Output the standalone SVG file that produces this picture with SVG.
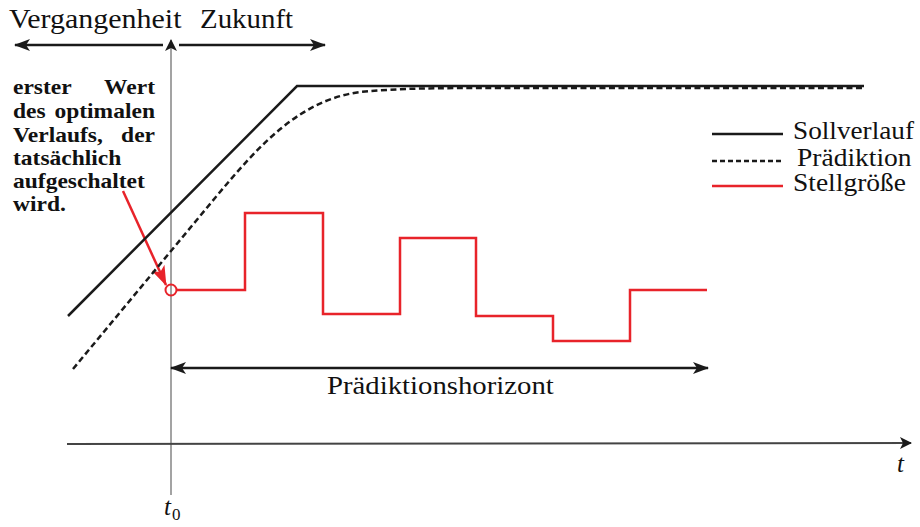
<svg xmlns="http://www.w3.org/2000/svg" width="920" height="527" viewBox="0 0 920 527">
<defs>
<style>
.t{font-family:"Liberation Serif","Times New Roman",serif;fill:#111}
.b{font-family:"Liberation Serif","Times New Roman",serif;font-weight:bold;fill:#111;font-size:21px}
.blk{stroke:#1a1a1a;stroke-width:2.5;fill:none}
.red{stroke:#e8232a;stroke-width:2.5;fill:none}
.ax{stroke:#666;stroke-width:1.2;fill:none}
</style>
<marker id="ah" viewBox="0 0 16 12" refX="15" refY="6" markerWidth="16" markerHeight="12" markerUnits="userSpaceOnUse" orient="auto-start-reverse">
<path d="M0,0 L16,6 L0,12 L4,6 Z" fill="#1a1a1a"/>
</marker>
<marker id="ahs" viewBox="0 0 12 12" refX="11" refY="6" markerWidth="12" markerHeight="12" markerUnits="userSpaceOnUse" orient="auto">
<path d="M0,0 L12,6 L0,12 L3,6 Z" fill="#1a1a1a"/>
</marker>
<marker id="ahr" viewBox="0 0 20 14" refX="19" refY="7" markerWidth="20" markerHeight="14" markerUnits="userSpaceOnUse" orient="auto">
<path d="M0,0 L20,7 L0,14 L5,7 Z" fill="#e8232a"/>
</marker>
</defs>
<g id="axes">
<line class="ax" x1="171" y1="495" x2="171" y2="40" marker-end="url(#ahs)"/>
<line x1="67" y1="444" x2="911" y2="443" stroke="#444" stroke-width="2" marker-end="url(#ahs)"/>
<text class="t" x="897" y="472" font-size="25" font-style="italic">t</text>
<text class="t" x="164" y="515" font-size="25" font-style="italic">t</text>
<text class="t" x="172" y="520" font-size="17">0</text>
</g>
<g id="time-labels">
<text class="t" font-size="27" transform="translate(9,28) scale(1.11,1)">Vergangenheit</text>
<text class="t" font-size="27" transform="translate(200,28) scale(1.07,1)">Zukunft</text>
</g>
<g id="connectors">
<line class="blk" x1="163" y1="45" x2="15" y2="45" marker-end="url(#ah)"/>
<line class="blk" x1="179" y1="45" x2="325" y2="45" marker-end="url(#ah)"/>
<line class="blk" x1="171" y1="368" x2="708" y2="368" marker-start="url(#ah)" marker-end="url(#ah)"/>
<line class="red" x1="123" y1="191" x2="166" y2="285" marker-end="url(#ahr)"/>
</g>
<g id="sollverlauf">
<path class="blk" d="M68,316 L297,86 L864,86"/>
</g>
<g id="praediktion">
<path class="blk" stroke-dasharray="6,3.5" d="M73,369 L215,198 C260,144 300,100 360,92 C400,88 440,88 500,88 L863,88"/>
</g>
<g id="stellgroesse">
<circle cx="171" cy="290" r="5.5" fill="none" stroke="#e8232a" stroke-width="2"/>
<path class="red" d="M176.5,290 L245,290 L245,213 L323,213 L323,314 L400,314 L400,238 L476,238 L476,316 L553,316 L553,341 L630,341 L630,290 L707,290"/>
</g>
<g id="horizont-label">
<text class="t" font-size="25" transform="translate(327,394) scale(1.15,1)">Prädiktionshorizont</text>
</g>
<g id="annotation">
<text class="b" transform="translate(13,94) scale(1.12,1)">erster</text>
<text class="b" text-anchor="end" transform="translate(155,94) scale(1.12,1)">Wert</text>
<text class="b" transform="translate(13,118) scale(1.12,1)">des</text>
<text class="b" text-anchor="end" transform="translate(155,118) scale(1.12,1)">optimalen</text>
<text class="b" transform="translate(13,142) scale(1.12,1)">Verlaufs,</text>
<text class="b" text-anchor="end" transform="translate(155,142) scale(1.12,1)">der</text>
<text class="b" transform="translate(13,165) scale(1.12,1)">tatsächlich</text>
<text class="b" transform="translate(13,188) scale(1.12,1)">aufgeschaltet</text>
<text class="b" transform="translate(13,211) scale(1.12,1)">wird.</text>
</g>
<g id="legend">
<line class="blk" x1="712" y1="134" x2="783" y2="134"/>
<text class="t" font-size="25" transform="translate(793,139) scale(1.09,1)">Sollverlauf</text>
<line class="blk" stroke-dasharray="5,3" x1="712" y1="161" x2="783" y2="161"/>
<text class="t" font-size="25" transform="translate(797,166) scale(1.1,1)">Prädiktion</text>
<line class="red" x1="712" y1="186" x2="783" y2="186"/>
<text class="t" font-size="25" transform="translate(793,191) scale(1.1,1)">Stellgröße</text>
</g>
</svg>
